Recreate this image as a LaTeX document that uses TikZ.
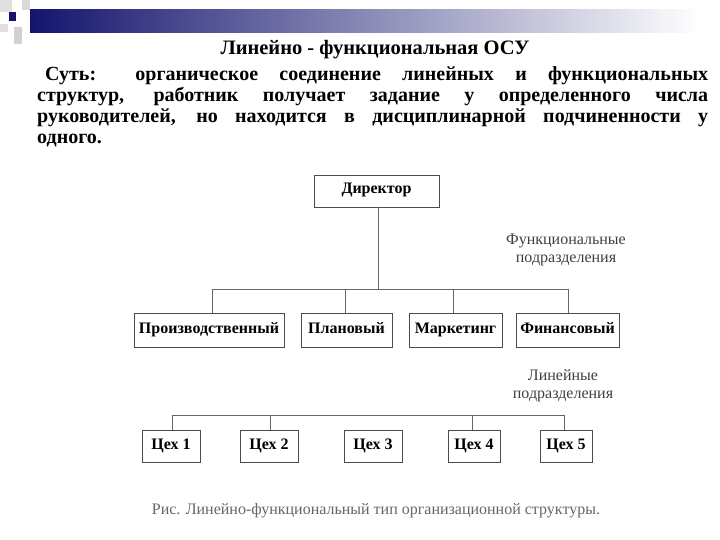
\documentclass[tikz,border=0pt]{standalone}
\usepackage{fontspec}
\setmainfont{Liberation Serif}
\definecolor{navy}{RGB}{20,20,110}
\begin{document}
\begin{tikzpicture}[x=1pt,y=-1pt,
  box/.style={draw=black!70,line width=0.8pt,minimum height=32pt,inner sep=0pt,text height=12pt,text depth=6pt,font=\bfseries\fontsize{16}{16}\selectfont},
  lab/.style={font=\fontsize{16}{18}\selectfont,text=black!75,align=center},
  ln/.style={black!60,line width=0.7pt}]
\useasboundingbox (0,0) rectangle (720,540);
\fill[white] (0,0) rectangle (720,540);
% header decoration
\shade[left color=navy,right color=white] (30,10) rectangle (700,33);
\fill[black!12] (0,0) rectangle (12,12);
\fill[black!15] (22,0) rectangle (30,10);
\fill[black!18] (14,27) rectangle (22,44);
\fill[black!12] (0,24) rectangle (8,32);
\fill[navy] (9,12) rectangle (16,21);
\node[font=\bfseries\fontsize{20.5}{20.5}\selectfont] (title) at (375,50) {Линейно - функциональная ОСУ};
\node[anchor=north west,text width=671pt,align=justify,inner sep=0pt,font=\bfseries\fontsize{20}{21}\selectfont] (body) at (37,66)
{\hspace*{8pt}Суть: органическое соединение линейных и функциональных\linebreak структур, работник получает задание у определенного числа\linebreak руководителей, но находится в дисциплинарной подчиненности у\linebreak одного.};
% boxes
\node[box,minimum width=125pt] (dir) at (376.5,191) {Директор};
\node[box,minimum width=150pt,minimum height=34pt] (p1) at (209,330) {Производственный};
\node[box,minimum width=91pt,minimum height=34pt] (p2) at (346.5,330) {Плановый};
\node[box,minimum width=93pt,minimum height=34pt] (p3) at (455.5,330) {Маркетинг};
\node[box,minimum width=103pt,minimum height=34pt] (p4) at (567.5,330) {Финансовый};
\node[box,minimum width=58pt] (c1) at (171,446) {Цех 1};
\node[box,minimum width=58pt] (c2) at (269,446) {Цех 2};
\node[box,minimum width=58pt] (c3) at (373,446) {Цех 3};
\node[box,minimum width=52pt] (c4) at (474,446) {Цех 4};
\node[box,minimum width=52pt] (c5) at (566,446) {Цех 5};
% connectors
\coordinate (h1) at (378,289);
\draw[ln] (dir.south -| h1) -- (h1);
\draw[ln] (212,289) coordinate (hl) -- (568,289) coordinate (hr);
\draw[ln] (hl) -- (hl |- p1.north);
\draw[ln] (345,289) -- (345,313);
\draw[ln] (453,289) -- (453,313);
\draw[ln] (hr) -- (hr |- p4.north);
\coordinate (l1) at (172,415);
\coordinate (l2) at (564,415);
\draw[ln] (l1) -- (l2);
\draw[ln] (l1) -- (l1 |- c1.north);
\draw[ln] (270,415) -- (270 ,430);
\draw[ln] (472,415) -- (472,430);
\draw[ln] (l2) -- (l2 |- c5.north);
\node[lab] (fl) at (566,250) {Функциональные\\подразделения};
\node[lab] (ll) at (563,386) {Линейные\\подразделения};
\node[font=\fontsize{16}{16}\selectfont,text=black!60] (cap) at (376,511) {Рис. Линейно-функциональный тип организационной структуры.};
\end{tikzpicture}
\end{document}
